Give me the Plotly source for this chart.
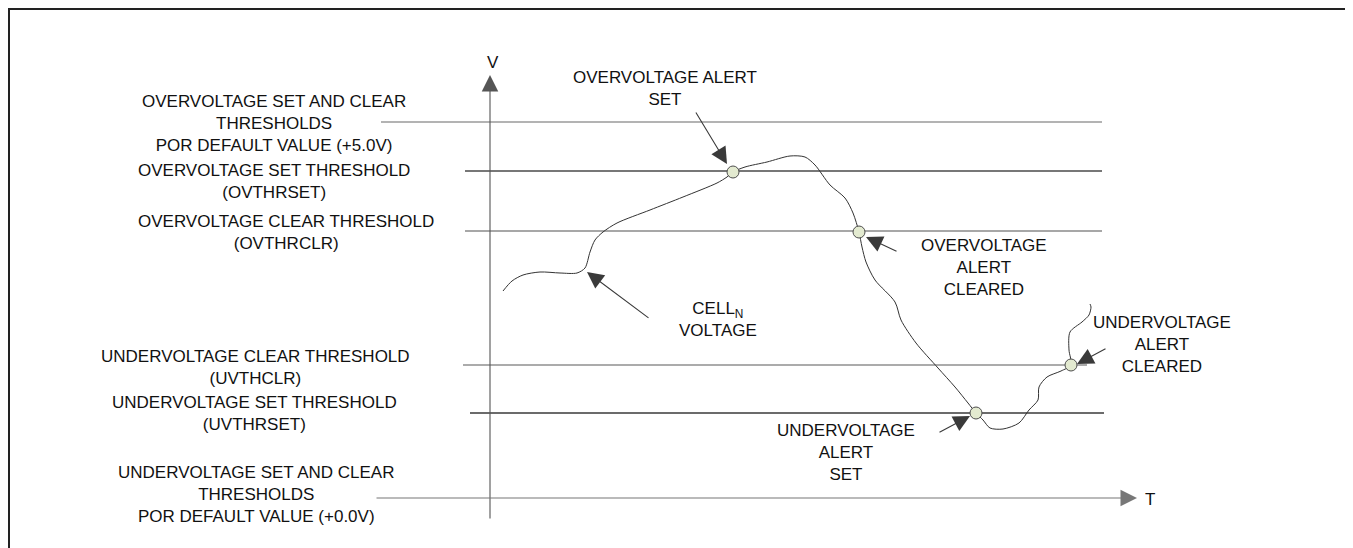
import plotly.graph_objects as go

# diagram is laid out in a pixel-like coordinate space (y grows downward)
W, H = 1353, 548
PAGE_PAD = 8  # default body margin of the html page

# threshold lines: y level, x start, x end
threshold_names = ["OV_POR", "OVTHRSET", "OVTHRCLR", "UVTHCLR", "UVTHRSET"]
threshold_y = [122, 171, 231, 365, 413]
threshold_x0 = [381, 465, 465, 463, 470]
threshold_x1 = [1102, 1102, 1102, 1087, 1104]
threshold_colors = ["#9a9a9a", "#4a4a4a", "#8a8a8a", "#8f8f8f", "#3a3a3a"]

# cell voltage trace
cell_x = [503, 512, 523, 540, 560, 577, 585, 590, 595, 603, 617, 650, 683, 717, 727,
          733, 745, 767, 790, 805, 815, 830, 845, 853, 859, 862, 866, 875, 895, 901,
          916, 938, 955, 968, 976, 983, 990, 1003, 1019, 1029, 1038, 1039, 1047, 1061,
          1071, 1069, 1070, 1082, 1089, 1091, 1090]
cell_y = [291, 281, 275, 272, 273, 273, 268, 252, 240, 232, 223, 210, 197, 183, 177,
          172, 167, 162, 156, 157, 165, 185, 198, 213, 232, 247, 262, 280, 302, 320,
          343, 368, 387, 403, 413, 420, 428, 429, 423, 410, 400, 387, 377, 371,
          365, 350, 332, 322, 315, 307, 304]

# crossing points (alert events)
event_x = [733, 859, 976, 1071]
event_y = [172, 232, 413, 365]

# left-hand threshold labels: text, centre x, centre y
left_labels = [
    "OVERVOLTAGE SET AND CLEAR<br>THRESHOLDS<br>POR DEFAULT VALUE (+5.0V)",
    "OVERVOLTAGE SET THRESHOLD<br>(OVTHRSET)",
    "OVERVOLTAGE CLEAR THRESHOLD<br>(OVTHRCLR)",
    "UNDERVOLTAGE CLEAR THRESHOLD<br>(UVTHCLR)",
    "UNDERVOLTAGE SET THRESHOLD<br>(UVTHRSET)",
    "UNDERVOLTAGE SET AND CLEAR<br>THRESHOLDS<br>POR DEFAULT VALUE (+0.0V)",
]
left_x = [274, 274, 286, 255, 254, 256]
left_y = [123, 181, 232, 367, 413, 494]

# callouts: text, text centre, arrow tail, arrow tip
callout_text = [
    "OVERVOLTAGE ALERT<br>SET",
    "CELL<sub>N</sub><br>VOLTAGE",
    "OVERVOLTAGE<br>ALERT<br>CLEARED",
    "UNDERVOLTAGE<br>ALERT<br>SET",
    "UNDERVOLTAGE<br>ALERT<br>CLEARED",
]
callout_x = [665, 718, 984, 846, 1162]
callout_y = [88, 319, 267, 452, 344]
arrow_tail_x = [695, 650, 898, 938, 1107]
arrow_tail_y = [111, 319, 252, 433, 348]
arrow_tip_x = [727, 587, 866, 970, 1077]
arrow_tip_y = [164, 272, 237, 416, 364]

FONT = dict(family="Liberation Sans Narrow, Arial Narrow, Liberation Sans, sans-serif",
            size=17, color="#111111")
ARROW = "#3a3a3a"

fig = go.Figure()

for name, y, x0, x1, c in zip(threshold_names, threshold_y, threshold_x0,
                              threshold_x1, threshold_colors):
    fig.add_trace(go.Scatter(x=[x0, x1], y=[y, y], mode="lines", name=name,
                             line=dict(color=c, width=1.3), hoverinfo="skip"))

fig.add_trace(go.Scatter(x=cell_x, y=cell_y, mode="lines", name="CELLN",
                         line=dict(color="#333333", width=1, shape="spline", smoothing=0.8),
                         hoverinfo="skip"))

fig.add_trace(go.Scatter(x=event_x, y=event_y, mode="markers", name="events",
                         marker=dict(size=12, color="#e3ead0",
                                     line=dict(color="#4d4d4d", width=1)),
                         hoverinfo="skip"))

annotations = []
for t, x, y in zip(left_labels, left_x, left_y):
    annotations.append(dict(x=x, y=y, text=t, showarrow=False, font=FONT,
                            xanchor="center", yanchor="middle", align="center"))
for t, x, y in zip(callout_text, callout_x, callout_y):
    annotations.append(dict(x=x, y=y, text=t, showarrow=False, font=FONT,
                            xanchor="center", yanchor="middle", align="center"))
for tx, ty, hx, hy in zip(arrow_tail_x, arrow_tail_y, arrow_tip_x, arrow_tip_y):
    annotations.append(dict(x=hx, y=hy, ax=tx, ay=ty, axref="x", ayref="y",
                            text="", showarrow=True, arrowhead=2, arrowsize=3,
                            arrowwidth=1.1, arrowcolor=ARROW, standoff=0))

# V and T axes
annotations.append(dict(x=490, y=75, ax=490, ay=520, axref="x", ayref="y", text="",
                        showarrow=True, arrowhead=2, arrowsize=3, arrowwidth=1.1,
                        arrowcolor="#555555", standoff=0))
annotations.append(dict(x=1137, y=498, ax=375, ay=498, axref="x", ayref="y", text="",
                        showarrow=True, arrowhead=2, arrowsize=3, arrowwidth=1.1,
                        arrowcolor="#777777", standoff=0))
annotations.append(dict(x=493, y=62, text="V", showarrow=False, font=FONT))
annotations.append(dict(x=1150, y=499, text="T", showarrow=False, font=FONT))

fig.update_layout(
    width=W, height=H,
    margin=dict(l=0, r=0, t=0, b=0),
    paper_bgcolor="white", plot_bgcolor="white",
    showlegend=False,
    annotations=annotations,
    shapes=[dict(type="rect", xref="x", yref="y", x0=9, y0=9, x1=1351, y1=570,
                 line=dict(color="#222222", width=2))],
)
# offset the ranges so that diagram units land on page pixels
fig.update_xaxes(range=[PAGE_PAD, W + PAGE_PAD], visible=False, fixedrange=True)
fig.update_yaxes(range=[H + PAGE_PAD, PAGE_PAD], visible=False, fixedrange=True)

fig.write_html("out.html")
